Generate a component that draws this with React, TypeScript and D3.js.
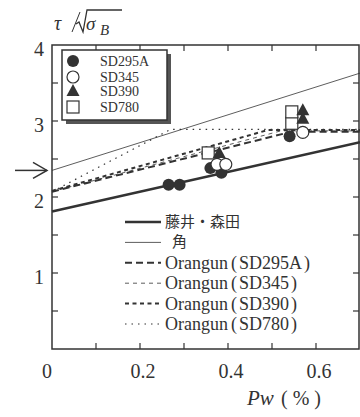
import React from "react";
import * as d3 from "d3";

// design lines (x = Pw %, y = tau / sqrt(sigmaB))
const fujiiLine = [[0, 1.81], [0.7, 2.72]];
const sumiLine = [[0, 2.35], [0.7, 3.63]];
const orangun295 = [[0, 2.07], [0.545, 2.86], [0.7, 2.86]];
const orangun345 = [[0, 2.07], [0.52, 2.87], [0.7, 2.87]];
const orangun390 = [[0, 2.08], [0.49, 2.88], [0.7, 2.88]];
const orangun780 = [[0, 2.07], [0.27, 2.89], [0.7, 2.89]];

// test results
const sd295a = [[0.265, 2.16], [0.29, 2.16], [0.36, 2.38], [0.385, 2.32], [0.54, 2.8]];
const sd345 = [[0.375, 2.43], [0.395, 2.43], [0.57, 2.85]];
const sd390 = [[0.38, 2.58], [0.57, 3.03], [0.57, 3.14]];
const sd780 = [[0.355, 2.58], [0.545, 2.97], [0.545, 3.12]];

const xTickLabels = ["0.2", "0.4", "0.6"];
const yTickLabels = ["1", "2", "3", "4"];
const markerNames = ["SD295A", "SD345", "SD390", "SD780"];
const lineNames = ["藤井・森田", "角", "Orangun", "Orangun", "Orangun", "Orangun"];
const lineSuffix = ["", "", "SD295A", "SD345", "SD390", "SD780"];

const ink = "#333";
const serif = "Liberation Serif, Times New Roman, serif";
const cjk = "Noto Sans CJK JP";

const x = d3.scaleLinear().domain([0, 0.7]).range([52, 360]);
const y = d3.scaleLinear().domain([0, 4]).range([349, 45]);
const line = d3.line<number[]>().x((d) => x(d[0])).y((d) => y(d[1]));

const lineStyles = [
  { width: 2.6, dash: "" },
  { width: 0.8, dash: "" },
  { width: 2, dash: "7 4" },
  { width: 0.8, dash: "4 4" },
  { width: 2, dash: "4 3.5" },
  { width: 1.2, dash: "1.5 5" },
];
const linesData = [fujiiLine, sumiLine, orangun295, orangun345, orangun390, orangun780];

const Marker = ({ kind, cx, cy }: { kind: number; cx: number; cy: number }) => {
  if (kind === 0) return <circle cx={cx} cy={cy} r={6} fill={ink} />;
  if (kind === 1) return <circle cx={cx} cy={cy} r={6} fill="#fff" stroke={ink} strokeWidth={1.2} />;
  if (kind === 2)
    return <path d={`M${cx},${cy - 7}L${cx + 6.5},${cy + 5}L${cx - 6.5},${cy + 5}Z`} fill={ink} />;
  return <rect x={cx - 6} y={cy - 6} width={12} height={12} fill="#fff" stroke={ink} strokeWidth={1.2} />;
};

export default function App() {
  const xMinor = d3.range(1, 7).map((i) => i / 10);
  const yMinor = d3.range(1, 8).map((i) => i / 2);
  const pointSets = [sd295a, sd780, sd345, sd390];
  const kinds = [0, 3, 1, 2];

  return (
    <svg width={360} height={417} style={{ position: "absolute", left: 0, top: 0, background: "#fff" }}>
      {/* lines */}
      {linesData.map((d, i) => (
        <path key={i} d={line(d) || ""} fill="none" stroke={ink}
          strokeWidth={lineStyles[i].width} strokeDasharray={lineStyles[i].dash} />
      ))}

      {/* points */}
      {pointSets.map((set, si) =>
        set.map((p, i) => <Marker key={`${si}-${i}`} kind={kinds[si]} cx={x(p[0])} cy={y(p[1])} />)
      )}

      {/* frame and ticks */}
      <rect x={x(0)} y={y(4)} width={x(0.7) - x(0) - 1} height={y(0) - y(4)} fill="none" stroke={ink} strokeWidth={1.5} />
      {xMinor.map((t) => (
        <g key={`xt${t}`}>
          <line x1={x(t)} x2={x(t)} y1={y(0)} y2={y(0) - 6} stroke={ink} strokeWidth={1.2} />
          <line x1={x(t)} x2={x(t)} y1={y(4)} y2={y(4) + 6} stroke={ink} strokeWidth={1.2} />
        </g>
      ))}
      {yMinor.map((t) => (
        <g key={`yt${t}`}>
          <line x1={x(0)} x2={x(0) + 6} y1={y(t)} y2={y(t)} stroke={ink} strokeWidth={1.2} />
          <line x1={x(0.7) - 1} x2={x(0.7) - 7} y1={y(t)} y2={y(t)} stroke={ink} strokeWidth={1.2} />
        </g>
      ))}

      {/* tick labels */}
      <g fontFamily={serif} fontSize={20} fill={ink}>
        {yTickLabels.map((l) => (
          <text key={l} x={44} y={y(+l) + 11} textAnchor="end">{l}</text>
        ))}
        <text x={47} y={378} textAnchor="middle">0</text>
        {xTickLabels.map((l) => (
          <text key={l} x={x(+l) + 3} y={378} textAnchor="middle">{l}</text>
        ))}
      </g>

      {/* axis titles */}
      <g fontFamily={serif} fill={ink}>
        <text x={247} y={405} fontSize={21} fontStyle="italic">Pw</text>
        <text x={281} y={405} fontSize={20}>
          (<tspan dx={5}>%</tspan><tspan dx={5}>)</tspan>
        </text>
        <text x={54} y={30} fontSize={20} fontStyle="italic">τ</text>
        <line x1={72} y1={32} x2={80} y2={12} stroke={ink} strokeWidth={1} />
        <path d="M76,24 L79,22 L83,32 L87,10 L122,10" fill="none" stroke={ink} strokeWidth={1.3} />
        <text x={86} y={30} fontSize={19} fontStyle="italic">σ</text>
        <text x={100} y={35} fontSize={15} fontStyle="italic">B</text>
      </g>

      {/* arrow */}
      <g stroke={ink} strokeWidth={1.5} fill="none">
        <line x1={15} x2={47} y1={y(2.35)} y2={y(2.35)} />
        <path d={`M33,${y(2.35) - 8} L47,${y(2.35)} L33,${y(2.35) + 8}`} />
      </g>

      {/* marker legend */}
      <rect x={66} y={54} width={105} height={70} fill="#555" />
      <rect x={62} y={50} width={105} height={70} fill="#fff" stroke={ink} strokeWidth={1.5} />
      {markerNames.map((n, i) => {
        const cy = [61, 77, 91, 107][i];
        return (
          <g key={n}>
            <Marker kind={i} cx={73} cy={cy} />
            <text x={100} y={cy + 5} fontFamily={serif} fontSize={14} fill={ink}>{n}</text>
          </g>
        );
      })}

      {/* line legend */}
      {lineNames.map((n, i) => {
        const ly = 222 + i * 20.4;
        return (
          <g key={i}>
            <line x1={125} x2={161} y1={ly} y2={ly} stroke={ink}
              strokeWidth={lineStyles[i].width} strokeDasharray={lineStyles[i].dash} />
            {i < 2 ? (
              <text x={i === 0 ? 165 : 172} y={ly + 5} fontFamily={cjk} fontSize={15} fill={ink}>{n}</text>
            ) : (
              <text x={165} y={ly + 6} fontFamily={serif} fontSize={18} fill={ink}>
                {n}
                <tspan dx={3}>(</tspan>
                <tspan dx={2}>{lineSuffix[i]}</tspan>
                <tspan dx={2}>)</tspan>
              </text>
            )}
          </g>
        );
      })}
    </svg>
  );
}
